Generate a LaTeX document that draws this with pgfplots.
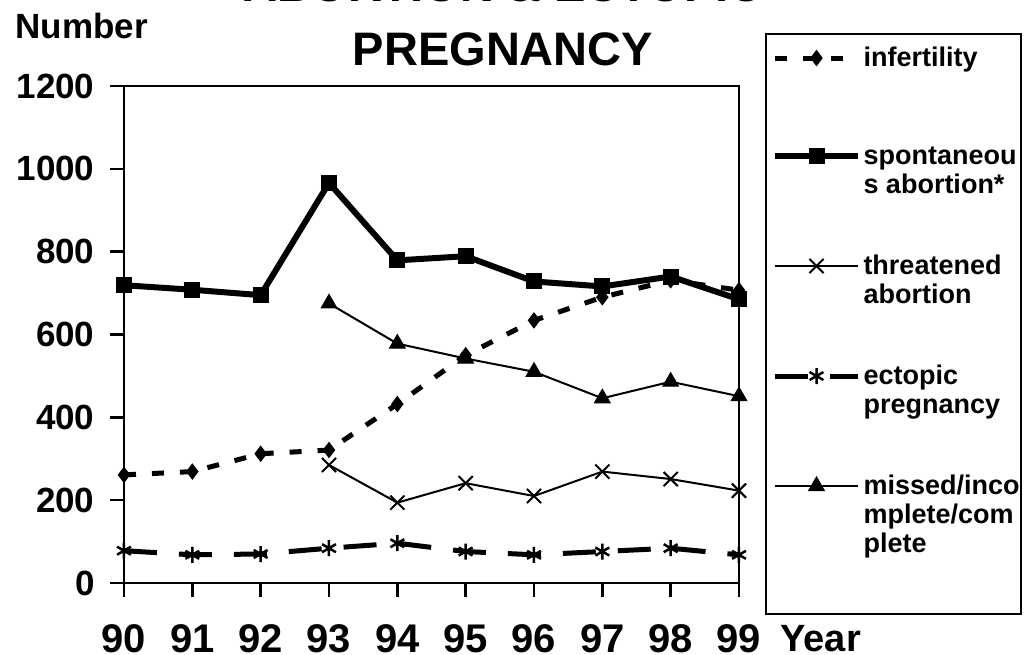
\documentclass[border=0pt]{standalone}
\usepackage{fontspec}
\setmainfont{Liberation Sans}
\usepackage{pgfplots}
\pgfplotsset{compat=1.18}
\newcommand{\lent}[2]{\parbox[t][#1][t]{149pt}{\raggedright\lineskiplimit=-30pt\rule{0pt}{22pt}#2}}
\begin{document}
\begin{tikzpicture}[x=1pt,y=1pt]
\useasboundingbox (0,0) rectangle (1025,655);
\clip (0,0) rectangle (1025,655);
\begin{axis}[
  at={(124pt,72pt)}, anchor=south west,
  scale only axis, width=615pt, height=497pt,
  xmin=90, xmax=99, ymin=0, ymax=1200,
  xtick={90,91,...,99}, ytick={0,200,...,1200},
  xtick pos=left, ytick pos=left,
  tick align=outside, major tick length=14pt,
  axis line style={line width=2.5pt},
  tick style={black, line width=2.5pt},
  /pgf/number format/assume math mode=true,
  /pgf/number format/1000 sep={},
  yticklabel style={font=\fontsize{35pt}{35pt}\selectfont\bfseries, anchor=east, xshift=-12pt},
  xticklabel style={font=\fontsize{40pt}{40pt}\selectfont\bfseries, anchor=base, yshift=-56pt},
  xlabel={Year}, ylabel={Number},
  every axis x label/.style={at={(axis description cs:1.0618,-0.137)}, anchor=base west, font=\fontsize{38pt}{38pt}\selectfont\bfseries},
  every axis y label/.style={at={(axis description cs:-0.182,1.0946)}, anchor=base west, font=\fontsize{35pt}{35pt}\selectfont\bfseries},
  clip=false,
  legend style={at={(axis description cs:1.0423,1.1066)}, anchor=north west,
    draw=black, line width=2pt, inner xsep=6pt, inner ysep=8pt,
    cells={anchor=base west}, column sep=0.5pt,
    nodes={inner sep=2pt, text depth=, font=\fontsize{27pt}{29pt}\selectfont\bfseries}},
  legend image code/.code={\draw[mark repeat=2,mark phase=2,#1] plot coordinates {(0pt,8pt)(41.5pt,8pt)(83pt,8pt)};},
]
\addplot[black, line width=5pt, dash pattern=on 12pt off 16pt, mark=diamond*, mark size=7.5pt, mark options={solid, line width=1pt}]
  coordinates {(90,261)(91,269)(92,312)(93,321)(94,432)(95,550)(96,634)(97,690)(98,731)(99,707)};
\addlegendentry{\lent{94pt}{\mbox{infertility}}}
\addplot[black, line width=6pt, mark=square*, mark size=7.5pt, mark options={solid, line width=1pt}]
  coordinates {(90,719)(91,708)(92,695)(93,966)(94,779)(95,789)(96,728)(97,716)(98,740)(99,685)};
\addlegendentry{\lent{106pt}{\mbox{spontaneou}\\\mbox{s abortion*}}}
\addplot[black, line width=2pt, mark=x, mark size=10pt, mark options={solid, line width=2pt}]
  coordinates {(93,285)(94,194)(95,241)(96,210)(97,269)(98,251)(99,223)};
\addlegendentry{\lent{106pt}{\mbox{threatened}\\\mbox{abortion}}}
\addplot[black, line width=5pt, dash pattern=on 33pt off 22pt, mark=asterisk, mark size=8pt, mark options={solid, line width=2.5pt}]
  coordinates {(90,78)(91,68)(92,70)(93,84)(94,96)(95,76)(96,68)(97,76)(98,84)(99,68)};
\addlegendentry{\lent{106pt}{\mbox{ectopic}\\\mbox{pregnancy}}}
\addplot[black, line width=2pt, mark=triangle*, mark size=9pt, mark options={solid, line width=1pt}]
  coordinates {(93,675)(94,578)(95,542)(96,510)(97,446)(98,486)(99,451)};
\addlegendentry{\lent{132pt}{\mbox{missed/inco}\\\mbox{mplete/com}\\\mbox{plete}}}
\end{axis}
\node[anchor=base, font=\fontsize{47pt}{47pt}\selectfont\bfseries] at (503,653) {ABORTION \& ECTOPIC};
\node[anchor=base, font=\fontsize{47pt}{47pt}\selectfont\bfseries] at (503,589) {PREGNANCY};
\end{tikzpicture}
\end{document}
